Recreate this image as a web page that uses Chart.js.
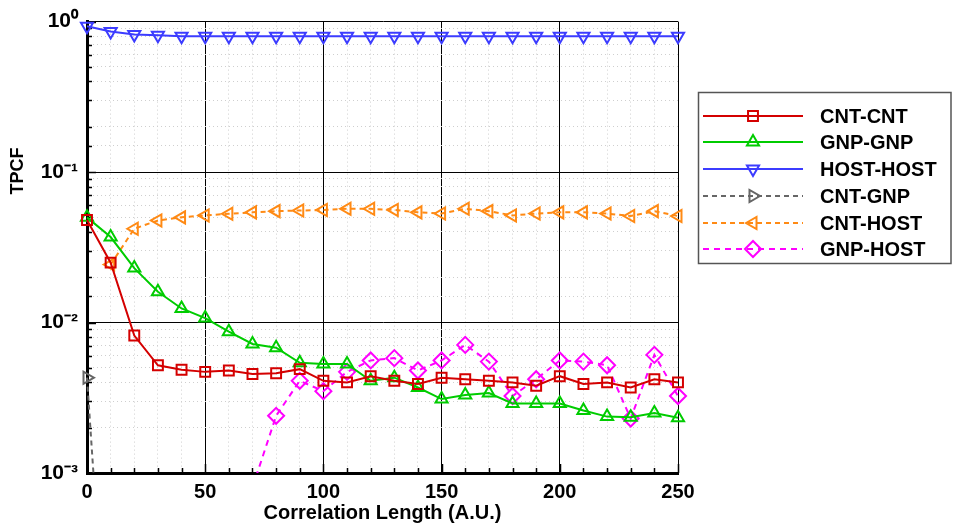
<!DOCTYPE html>
<html>
<head>
<meta charset="utf-8">
<script src="https://cdn.jsdelivr.net/npm/chart.js@4.4.0/dist/chart.umd.min.js"></script>
<style>
html,body{margin:0;padding:0;background:#fff;overflow:hidden}
#wrap{width:953px;height:531px;position:relative}
</style>
</head>
<body>
<div id="wrap"><canvas id="c" width="953" height="531"></canvas></div>
<script>
// ---- data ----
const lengths = [0,10,20,30,40,50,60,70,80,90,100,110,120,130,140,150,160,170,180,190,200,210,220,230,240,250];

const cntCnt = [0.048,0.025,0.0082,0.0052,0.00485,0.0047,0.0048,0.00455,0.0046,0.0049,0.0041,0.0040,0.0044,0.0041,0.0039,0.0043,0.0042,0.0041,0.0040,0.0038,0.0044,0.0039,0.0040,0.0037,0.0042,0.0040];
const gnpGnp = [0.050,0.037,0.023,0.016,0.0124,0.0107,0.0087,0.0072,0.0068,0.0054,0.0053,0.0053,0.0041,0.0043,0.0037,0.0031,0.0033,0.0034,0.0029,0.0029,0.0029,0.0026,0.00237,0.00235,0.0025,0.00233];
const hostHost = [0.93,0.86,0.82,0.81,0.80,0.80,0.80,0.80,0.80,0.80,0.80,0.80,0.80,0.80,0.80,0.80,0.80,0.80,0.80,0.80,0.80,0.80,0.80,0.80,0.80,0.80];
const cntGnp = [0.0043,0.00002,null,null,null,null,null,null,null,null,null,null,null,null,null,null,null,null,null,null,null,null,null,null,null,null];
const cntHost = [null,0.0243,0.042,0.0477,0.050,0.0515,0.0528,0.054,0.055,0.0555,0.056,0.057,0.057,0.056,0.054,0.053,0.057,0.055,0.0515,0.053,0.054,0.054,0.053,0.051,0.055,0.051];
const gnpHost = [null,null,null,null,null,null,null,0.0008,0.0024,0.0041,0.0035,0.0047,0.0056,0.0058,0.0048,0.0056,0.0071,0.0055,0.00325,0.0042,0.0056,0.0055,0.0052,0.0023,0.0061,0.00325];

const seriesNames = ['CNT-CNT','GNP-GNP','HOST-HOST','CNT-GNP','CNT-HOST','GNP-HOST'];
const xTitle = 'Correlation Length (A.U.)';
const yTitle = 'TPCF';

// ---- styling ----
const FONT = '"Liberation Sans", Arial, Helvetica, sans-serif';

function series(label, values, color, style, rotation, radius, dash) {
  return {
    label,
    data: lengths.map((x, i) => ({x, y: values[i]})),
    borderColor: color,
    backgroundColor: 'rgba(0,0,0,0)',
    pointBackgroundColor: 'rgba(0,0,0,0)',
    pointBorderColor: color,
    pointStyle: style,
    pointRotation: rotation,
    pointRadius: radius,
    pointHoverRadius: radius,
    pointBorderWidth: 2,
    borderWidth: 2,
    borderDash: dash,
    tension: 0,
    spanGaps: false,
    clip: {left: 12, right: 12, top: 4, bottom: 0}
  };
}

const datasets = [
  series(seriesNames[0], cntCnt, '#d40000', 'rect', 0, 7, []),
  series(seriesNames[1], gnpGnp, '#00cc00', 'triangle', 0, 7, []),
  series(seriesNames[2], hostHost, '#3c3cff', 'triangle', 180, 7, []),
  series(seriesNames[3], cntGnp, '#666666', 'triangle', 90, 7, [5, 4]),
  series(seriesNames[4], cntHost, '#ff8a14', 'triangle', 270, 7, [5, 4]),
  series(seriesNames[5], gnpHost, '#ff00ff', 'rectRot', 0, 8, [6, 5])
];

const isDecade = v => Math.abs(Math.log10(v) - Math.round(Math.log10(v))) < 1e-6;
const SUP = {'-':'\u207B','0':'\u2070','1':'\u00B9','2':'\u00B2','3':'\u00B3'};
const supText = n => String(n).split('').map(c => SUP[c]).join('');

const innerTicks = {
  id: 'innerTicks',
  beforeDatasetsDraw(chart) {
    const {ctx, chartArea: a, scales: {x, y}} = chart;
    ctx.save();
    ctx.strokeStyle = '#000';
    ctx.lineWidth = 1.5;
    ctx.beginPath();
    x.ticks.forEach(t => {
      const px = Math.round(x.getPixelForValue(t.value)) + 0.5;
      const len = t.value % 50 === 0 ? 9 : 5;
      ctx.moveTo(px, a.bottom); ctx.lineTo(px, a.bottom - len);
    });
    y.ticks.forEach(t => {
      const py = Math.round(y.getPixelForValue(t.value)) + 0.5;
      const len = isDecade(t.value) ? 9 : 5;
      ctx.moveTo(a.left, py); ctx.lineTo(a.left + len, py);
    });
    ctx.stroke();
    ctx.restore();
  }
};

const yTitlePlugin = {
  id: 'yTitle',
  afterDraw(chart) {
    const ctx = chart.ctx;
    ctx.save();
    ctx.translate(18, 171);
    ctx.rotate(-Math.PI / 2);
    ctx.fillStyle = '#000';
    ctx.font = 'bold 18px ' + FONT;
    ctx.textAlign = 'center';
    ctx.textBaseline = 'middle';
    ctx.fillText(yTitle, 0, 0);
    ctx.restore();
  }
};

const boxLegend = {
  id: 'boxLegend',
  afterDraw(chart) {
    const ctx = chart.ctx;
    const bx = 698, by = 92, bw = 254, bh = 171;
    ctx.save();
    ctx.strokeStyle = '#555';
    ctx.lineWidth = 1.5;
    ctx.strokeRect(bx + 0.5, by + 0.5, bw - 1.5, bh);
    const rows = [116, 142, 169, 196, 223, 249];
    chart.data.datasets.forEach((ds, i) => {
      const yy = rows[i];
      ctx.strokeStyle = ds.borderColor;
      ctx.lineWidth = ds.borderWidth;
      ctx.setLineDash(ds.borderDash || []);
      ctx.beginPath();
      ctx.moveTo(703, yy); ctx.lineTo(803, yy);
      ctx.stroke();
      ctx.setLineDash([]);
      ctx.fillStyle = 'rgba(0,0,0,0)';
      ctx.lineWidth = ds.pointBorderWidth;
      Chart.helpers.drawPoint(ctx, {pointStyle: ds.pointStyle, rotation: ds.pointRotation, radius: ds.pointRadius, borderWidth: ds.pointBorderWidth}, 753, yy);
      ctx.fillStyle = '#000';
      ctx.font = 'bold 20px ' + FONT;
      ctx.textAlign = 'left';
      ctx.textBaseline = 'middle';
      ctx.fillText(ds.label, 820, yy + 1);
    });
    ctx.restore();
  }
};

const dashFor = major => major ? [] : [1, 3];

new Chart(document.getElementById('c'), {
  type: 'line',
  data: {datasets},
  plugins: [innerTicks, yTitlePlugin, boxLegend],
  options: {
    responsive: false,
    animation: false,
    events: [],
    layout: {padding: {left: 0, right: 275, top: 15, bottom: 0}},
    plugins: {legend: {display: false}, tooltip: {enabled: false}},
    scales: {
      x: {
        type: 'linear', min: 0, max: 250,
        afterFit: s => { s.height = 58; },
        ticks: {
          stepSize: 10, autoSkip: false, maxRotation: 0, minRotation: 0, padding: 7,
          color: '#000', font: {family: FONT, size: 20, weight: 'bold'},
          callback: v => (v % 50 === 0 ? String(v) : '')
        },
        grid: {
          drawTicks: false, lineWidth: 1,
          color: c => (c.tick && c.tick.value % 50 === 0) ? '#000' : '#cfcfcf'
        },
        border: {
          display: true, color: '#000', width: 3,
          dash: c => dashFor(!c.tick || c.tick.value % 50 === 0)
        },
        title: {
          display: true, text: xTitle, color: '#000',
          font: {family: FONT, size: 20, weight: 'bold'},
          padding: {top: 0, bottom: 6}
        }
      },
      y: {
        type: 'logarithmic', min: 0.001, max: 1,
        afterFit: s => { s.width = 87; },
        ticks: {
          autoSkip: false, padding: 9,
          color: '#000', font: {family: FONT, size: 21, weight: 'bold'},
          callback: v => isDecade(v) ? '10' + supText(Math.round(Math.log10(v))) : ''
        },
        grid: {
          drawTicks: false, lineWidth: 1,
          color: c => (c.tick && isDecade(c.tick.value)) ? '#000' : '#cfcfcf'
        },
        border: {
          display: true, color: '#000', width: 3,
          dash: c => dashFor(!c.tick || isDecade(c.tick.value))
        }
      }
    }
  }
});
</script>
</body>
</html>
